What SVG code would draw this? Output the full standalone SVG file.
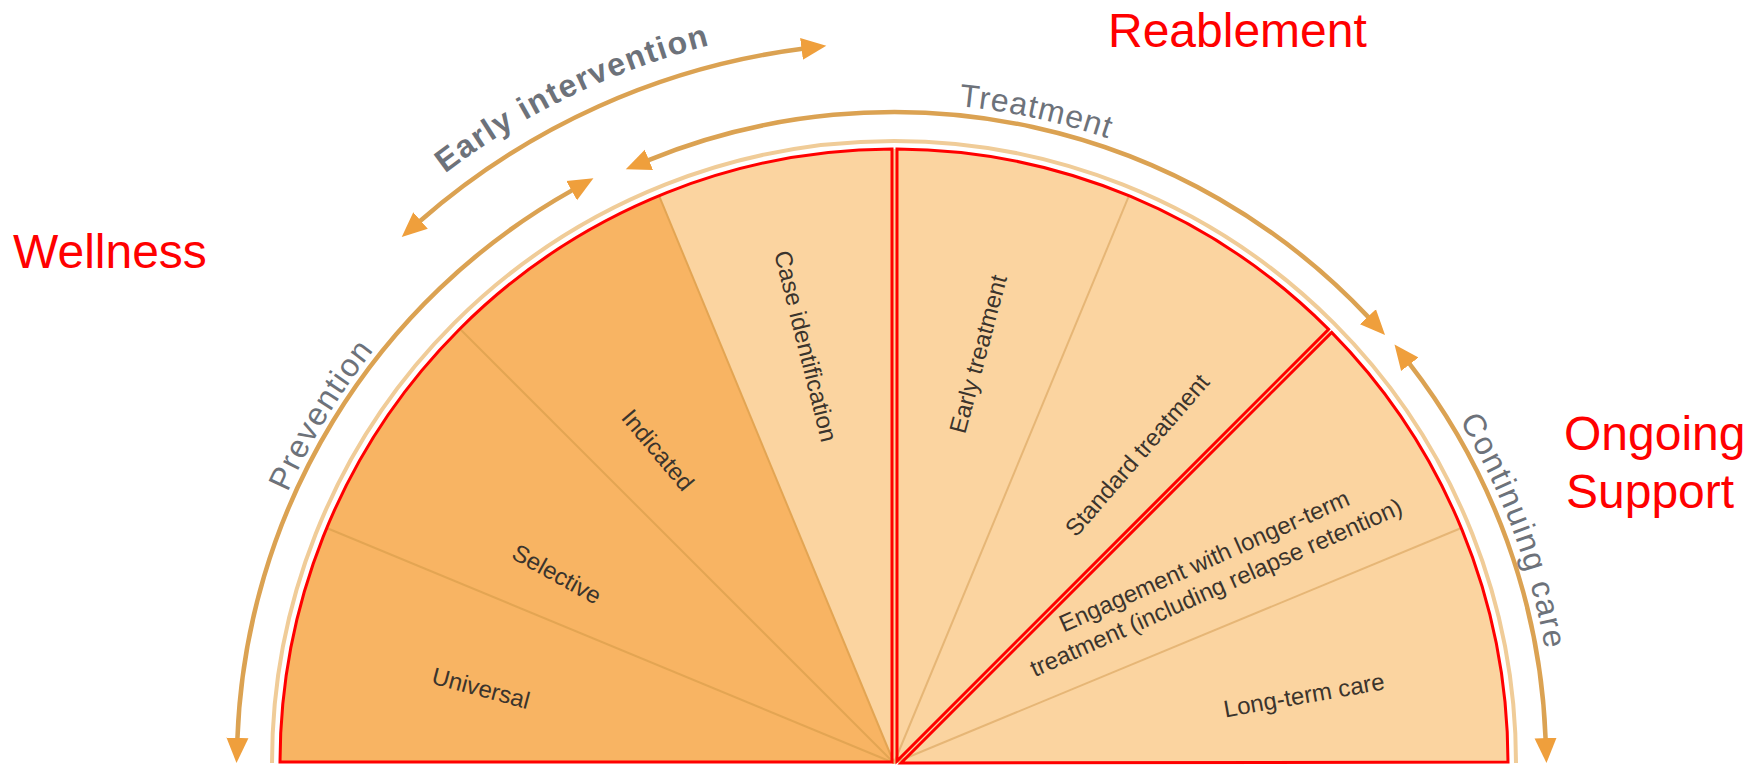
<svg xmlns="http://www.w3.org/2000/svg" width="1756" height="765" viewBox="0 0 1756 765">
<style>
.seg{font-family:"Liberation Sans",Arial,sans-serif;font-size:24px;fill:#3b342d;text-anchor:middle}
.arcl{font-family:"Liberation Sans",Arial,sans-serif;font-size:32px;fill:#6d727a}
.red{font-family:"Liberation Sans",Arial,sans-serif;font-size:48px;fill:#ff0000}
.div{stroke:#e3a553;stroke-width:2;fill:none}
.divl{stroke:#e6b676;stroke-width:2;fill:none}
.outline{fill:none;stroke:#ff0000;stroke-width:3;stroke-linejoin:miter}
.arrow{fill:none;stroke:#dba252;stroke-width:4.5}
</style>
<defs>
<marker id="ah" markerUnits="userSpaceOnUse" markerWidth="26" markerHeight="24" viewBox="0 0 26 24" refX="1" refY="12" orient="auto-start-reverse">
<path d="M0,1 L25,12 L0,23 Z" fill="#ef9f3c"/>
</marker>
<path id="tp-prev" d="M 230.2 747.9 A 664 664 0 0 1 575.1 180.6"/>
<path id="tp-early" d="M 281.1 346.5 A 741 741 0 0 1 948.3 24.0"/>
<path id="tp-treat" d="M 693.3 134.2 A 660 660 0 0 1 1338.2 274.8"/>
<path id="tp-cont" d="M 1314.4 253.0 A 661 661 0 0 1 1545.9 872.1"/>
</defs>
<rect width="1756" height="765" fill="#ffffff"/>

<g id="wheel">
<path d="M 272 763 A 622 622 0 0 1 1516 763" fill="none" stroke="#f0cc98" stroke-width="4"/>
<path d="M 894 763 L 280 763 A 614 614 0 0 1 659.0 195.7 Z" fill="#f8b463"/>
<path d="M 894 763 L 659.0 195.7 A 614 614 0 0 1 1508 763 Z" fill="#fbd4a0"/>
<line class="div" x1="894" y1="763" x2="326.7" y2="528.0"/>
<line class="div" x1="894" y1="763" x2="459.8" y2="328.8"/>
<line class="div" x1="894" y1="763" x2="659.0" y2="195.7"/>
<line class="divl" x1="894" y1="763" x2="1129.0" y2="195.7"/>
<line class="divl" x1="894" y1="763" x2="1461.3" y2="528.0"/>
</g>

<g id="seg-universal"><text class="seg" transform="translate(481 688) rotate(15)" dy="0.35em">Universal</text></g>
<g id="seg-selective"><text class="seg" transform="translate(557 574) rotate(29)" dy="0.35em">Selective</text></g>
<g id="seg-indicated"><text class="seg" transform="translate(658 450) rotate(50)" dy="0.35em">Indicated</text></g>
<g id="seg-case"><text class="seg" transform="translate(806 346) rotate(76)" dy="0.35em">Case identification</text></g>
<g id="seg-early-treatment"><text class="seg" transform="translate(978 354) rotate(-75)" dy="0.35em">Early treatment</text></g>
<g id="seg-standard"><text class="seg" transform="translate(1137 455) rotate(-49)" dy="0.35em">Standard treatment</text></g>
<g id="seg-engagement"><text class="seg" font-size="23" transform="translate(1210 574) rotate(-24)"><tspan x="0" y="-6">Engagement with longer-term</tspan><tspan x="0" y="23">treatment (including relapse retention)</tspan></text></g>
<g id="seg-longterm"><text class="seg" transform="translate(1304 695) rotate(-10)" dy="0.35em">Long-term care</text></g>

<g id="outlines">
<path class="outline" d="M 280 762 A 614 614 0 0 1 892 149 L 892 762 Z"/>
<path class="outline" d="M 897 761 L 897 149 A 614 614 0 0 1 1328.65 329.35 Z"/>
<path class="outline" d="M 901 763 L 1331.65 332.35 A 614 614 0 0 1 1508 762 Z"/>
</g>

<g id="connectors">
<path class="arrow" d="M 237.4 738.9 A 657 657 0 0 1 572.5 190.1" marker-start="url(#ah)" marker-end="url(#ah)"/>
<path class="arrow" d="M 419.8 221.2 A 720 720 0 0 1 802.5 48.8" marker-start="url(#ah)" marker-end="url(#ah)"/>
<path class="arrow" d="M 648.0 160.3 A 651 651 0 0 1 1368.6 317.4" marker-start="url(#ah)" marker-end="url(#ah)"/>
<path class="arrow" d="M 1409.2 363.4 A 652 652 0 0 1 1545.6 739.1" marker-start="url(#ah)" marker-end="url(#ah)"/>
</g>

<g id="label-prevention"><text class="arcl" letter-spacing="1.5"><textPath href="#tp-prev" startOffset="50%" text-anchor="middle">Prevention</textPath></text></g>
<g id="label-early-intervention"><text class="arcl" font-weight="bold" font-size="33" letter-spacing="1.5"><textPath href="#tp-early" startOffset="50%" text-anchor="middle">Early intervention</textPath></text></g>
<g id="label-treatment"><text class="arcl" letter-spacing="1"><textPath href="#tp-treat" startOffset="50%" text-anchor="middle">Treatment</textPath></text></g>
<g id="label-continuing"><text class="arcl" letter-spacing="1.5"><textPath href="#tp-cont" startOffset="50%" text-anchor="middle">Continuing care</textPath></text></g>

<g id="label-wellness"><text class="red" x="13" y="268">Wellness</text></g>
<g id="label-reablement"><text class="red" x="1108" y="47">Reablement</text></g>
<g id="label-ongoing"><text class="red" x="1564" y="450">Ongoing</text><text class="red" x="1566" y="508">Support</text></g>
</svg>
